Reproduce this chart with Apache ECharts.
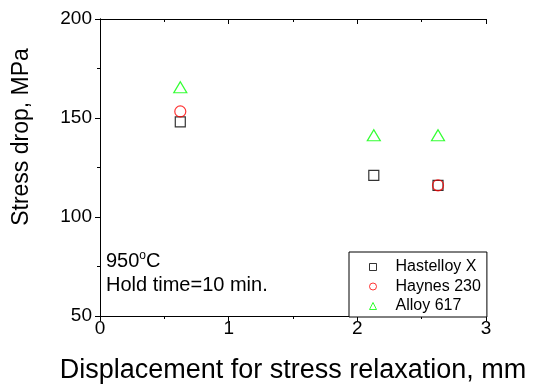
<!DOCTYPE html>
<html>
<head>
<meta charset="utf-8">
<script src="https://cdn.jsdelivr.net/npm/echarts@6/dist/echarts.min.js"></script>
<style>
  html, body { margin: 0; padding: 0; background: #fff; }
  .com-chart { width: 534px; height: 389px; }
</style>
</head>
<body>
<div class="com-chart" id="relax_ref"></div>
<script>
// data
const seriesNames = ['Hastelloy X', 'Haynes 230', 'Alloy 617']
const xHastelloy = [0.624, 2.128, 2.627]
const yHastelloy = [148, 121, 116]
const xHaynes = [0.624, 2.627]
const yHaynes = [153.3, 116]
const xAlloy = [0.624, 2.128, 2.627]
const yAlloy = [165.5, 141.3, 141.3]
const xTicks = [0, 1, 2, 3]
const yTicks = [50, 100, 150, 200]

const font = 'Liberation Sans'

function pairs(xs, ys) {
  return xs.map((x, i) => [x, ys[i]])
}

const chartInstance = echarts.init(document.getElementById('relax_ref'))

const lineStyle = { color: '#000', width: 1 }

const initOption = {
  animation: false,
  grid: {
    top: 19,
    bottom: 72,
    left: 100,
    right: 48
  },
  legend: {
    orient: 'vertical',
    left: 349,
    top: 252,
    padding: [7, 6, 3, 20],
    itemGap: 3.5,
    itemWidth: 7,
    itemHeight: 7,
    itemStyle: { borderWidth: 1 },
    borderColor: '#000',
    borderWidth: 1,
    borderRadius: 0,
    backgroundColor: '#fff',
    textStyle: { fontFamily: font, fontSize: 16, color: '#000', padding: [0, 0, 0, 14] },
    data: seriesNames
  },
  xAxis: [
    {
      type: 'value',
      position: 'bottom',
      min: xTicks[0],
      max: xTicks[xTicks.length - 1],
      interval: 1,
      name: 'Displacement for stress relaxation, mm',
      nameLocation: 'middle',
      nameGap: 41,
      nameTextStyle: { fontFamily: font, fontSize: 27, color: '#000' },
      axisLine: { lineStyle: lineStyle },
      axisTick: { length: 5, lineStyle: lineStyle },
      minorTick: { show: true, splitNumber: 2, length: 3, lineStyle: lineStyle },
      axisLabel: { fontFamily: font, fontSize: 19, color: '#000', margin: 3 },
      splitLine: { show: false }
    },
    {
      type: 'value',
      position: 'top',
      min: xTicks[0],
      max: xTicks[xTicks.length - 1],
      interval: 1,
      axisLine: { lineStyle: lineStyle },
      axisTick: { inside: true, length: 5, lineStyle: lineStyle },
      minorTick: { show: true, splitNumber: 2, length: 3, lineStyle: lineStyle },
      axisLabel: { show: false },
      splitLine: { show: false }
    }
  ],
  yAxis: [
    {
      type: 'value',
      position: 'left',
      min: yTicks[0],
      max: yTicks[yTicks.length - 1],
      interval: 50,
      axisLine: { show: true, lineStyle: lineStyle },
      axisTick: { show: true, length: 5, lineStyle: lineStyle },
      minorTick: { show: true, splitNumber: 2, length: 3, lineStyle: lineStyle },
      axisLabel: { fontFamily: font, fontSize: 19, color: '#000', margin: 8 },
      splitLine: { show: false }
    },
    {
      type: 'value',
      position: 'right',
      min: yTicks[0],
      max: yTicks[yTicks.length - 1],
      interval: 50,
      axisLine: { show: true, lineStyle: lineStyle },
      axisTick: { show: true, inside: true, length: 5, lineStyle: lineStyle },
      minorTick: { show: true, splitNumber: 2, length: 3, lineStyle: lineStyle },
      axisLabel: { show: false },
      splitLine: { show: false }
    }
  ],
  graphic: [
    {
      type: 'text',
      x: 22,
      y: 137,
      rotation: Math.PI / 2,
      style: {
        text: 'Stress drop, MPa',
        fontFamily: font,
        fontSize: 23,
        fill: '#000',
        align: 'center',
        verticalAlign: 'middle'
      }
    },
    {
      type: 'text',
      x: 106,
      y: 250,
      style: {
        text: '{a|950}{s|o}{a|C}',
        fill: '#000',
        rich: {
          a: { fontFamily: font, fontSize: 20, lineHeight: 22, color: '#000' },
          s: { fontFamily: font, fontSize: 12, lineHeight: 22, verticalAlign: 'top', color: '#000' }
        }
      }
    },
    {
      type: 'text',
      x: 106,
      y: 275,
      style: {
        text: 'Hold time=10 min.',
        fontFamily: font,
        fontSize: 20,
        fill: '#000'
      }
    }
  ],
  series: [
    {
      name: seriesNames[0],
      type: 'scatter',
      symbol: 'rect',
      symbolSize: 10,
      itemStyle: { color: 'rgba(255,255,255,0)', borderColor: '#000', borderWidth: 1.2 },
      data: pairs(xHastelloy, yHastelloy)
    },
    {
      name: seriesNames[1],
      type: 'scatter',
      symbol: 'circle',
      symbolSize: 11,
      itemStyle: { color: 'rgba(255,255,255,0)', borderColor: '#ff0000', borderWidth: 1.2 },
      data: pairs(xHaynes, yHaynes)
    },
    {
      name: seriesNames[2],
      type: 'scatter',
      symbol: 'triangle',
      symbolSize: [13, 11],
      itemStyle: { color: 'rgba(255,255,255,0)', borderColor: '#00ff00', borderWidth: 1.2 },
      data: pairs(xAlloy, yAlloy)
    }
  ]
}
chartInstance.setOption(initOption)
</script>
</body>
</html>
